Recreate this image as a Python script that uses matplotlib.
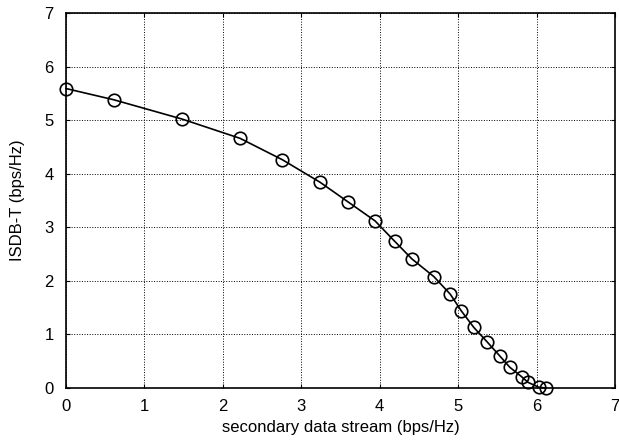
import numpy as np
import matplotlib.pyplot as plt

# secondary data stream rate vs ISDB-T rate (bps/Hz)
secondary_rate = [0.0, 0.61, 1.48, 2.22, 2.76, 3.24, 3.60, 3.94, 4.19, 4.41,
                  4.69, 4.90, 5.04, 5.20, 5.37, 5.53, 5.66, 5.81, 5.89, 6.03, 6.12]
isdbt_rate = [5.59, 5.38, 5.02, 4.66, 4.26, 3.84, 3.47, 3.12, 2.74, 2.41,
              2.08, 1.75, 1.44, 1.13, 0.86, 0.60, 0.385, 0.21, 0.106, 0.013, 0.0]

xticks = [0, 1, 2, 3, 4, 5, 6, 7]
yticks = [0, 1, 2, 3, 4, 5, 6, 7]


def main():
    plt.rcParams['font.family'] = ['Liberation Sans', 'DejaVu Sans']

    fig = plt.figure(figsize=(6.19, 4.43), dpi=100)
    ax = fig.add_axes([66 / 619, 1 - 388 / 443, 549 / 619, 375 / 443])

    ax.plot(secondary_rate, isdbt_rate, '-', color='black', linewidth=1.2,
            marker='o', markersize=9, markerfacecolor='none',
            markeredgecolor='black', markeredgewidth=1.2, clip_on=False,
            zorder=3)

    ax.set_xlim(0, 7)
    ax.set_ylim(0, 7)
    ax.set_xticks(xticks)
    ax.set_yticks(yticks)
    ax.tick_params(direction='in', top=True, right=True, length=3,
                   labelsize=12)
    ax.tick_params(axis='x', pad=8)
    ax.tick_params(axis='y', pad=9)
    ax.grid(True, linestyle=':', color='black', linewidth=0.7)
    for sp in ax.spines.values():
        sp.set_linewidth(1.2)

    ax.set_xlabel('secondary data stream (bps/Hz)', fontsize=12, labelpad=4)
    ax.set_ylabel('ISDB-T (bps/Hz)', fontsize=12, labelpad=14)

    fig.savefig('out.png', dpi=100)


if __name__ == '__main__':
    main()
